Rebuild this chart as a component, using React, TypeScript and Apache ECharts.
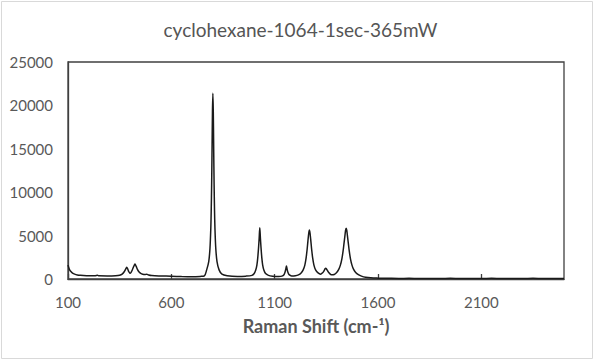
import React, { useEffect, useRef } from "react";
import * as echarts from "echarts";

const titleText = "cyclohexane-1064-1sec-365mW";
const xAxisName = "Raman Shift (cm-¹)";

const ramanShift = [
  100, 104, 108, 114, 122, 132, 145, 160, 190, 230, 243, 250, 290, 330, 350, 362, 372, 379, 384, 389,
  394, 400, 406, 412, 418, 424, 430, 436, 443, 452, 462, 472, 481, 490, 505, 540, 600, 650, 700, 740,
  760, 771, 781, 787, 791, 793, 795, 797, 799, 801, 803, 805, 807, 809, 811, 815, 821, 831, 845, 870,
  920, 960, 990, 1000, 1008, 1014, 1018, 1022, 1025, 1028, 1031, 1034, 1038, 1042, 1048, 1056, 1070, 1090, 1120, 1135,
  1145, 1150, 1154, 1157, 1160, 1164, 1170, 1182, 1200, 1215, 1228, 1238, 1246, 1252, 1257, 1261, 1265, 1268, 1271, 1275,
  1279, 1284, 1290, 1298, 1310, 1322, 1332, 1339, 1344, 1347, 1350, 1356, 1364, 1375, 1388, 1400, 1410, 1418, 1425, 1431,
  1436, 1440, 1443, 1446, 1449, 1452, 1456, 1461, 1467, 1474, 1482, 1492, 1505, 1520, 1540, 1565, 1600, 1650, 1700, 1750,
  1800, 1850, 1900, 1950, 2000, 2050, 2100, 2150, 2200, 2250, 2300, 2350, 2400, 2450, 2500,
];

const intensity = [
  1600, 1300, 1050, 850, 680, 560, 470, 420, 380, 370, 420, 370, 360, 380, 430, 560, 830, 1150, 1350, 1150,
  850, 660, 800, 1100, 1450, 1730, 1450, 1100, 830, 640, 540, 510, 560, 470, 400, 350, 320, 280, 260, 300,
  360, 1050, 2000, 3550, 5850, 7900, 10850, 14900, 19300, 21400, 19300, 14900, 10850, 7900, 5850, 3550, 2000, 1050, 550, 380,
  300, 330, 420, 600, 1000, 1600, 2400, 3600, 4700, 5900, 4700, 3600, 2400, 1600, 1000, 620, 420, 330, 290, 330,
  500, 780, 1150, 1500, 1150, 780, 500, 360, 380, 480, 700, 1050, 1600, 2400, 3400, 4400, 5300, 5650, 5300, 4400,
  3400, 2400, 1600, 1050, 700, 560, 720, 950, 1180, 1250, 1180, 950, 680, 480, 520, 750, 1100, 1600, 2300, 3200,
  4200, 5000, 5600, 5850, 5600, 5000, 4200, 3200, 2300, 1600, 1100, 750, 500, 330, 200, 130, 100, 80, 60, 80,
  50, 70, 60, 80, 50, 70, 60, 80, 50, 70, 60, 80, 50, 70, 60,
];

export default function App() {
  const ref = useRef<HTMLDivElement>(null);
  useEffect(() => {
    if (!ref.current) return;
    const chart = echarts.init(ref.current, null, { renderer: "svg" });
    const data = ramanShift.map((x, i) => [x, intensity[i]]);
    const labelColor = "#595959";
    const font = "Lato, 'Open Sans', sans-serif";
    const plain = (v: number) => String(v);
    chart.setOption({
      animation: false,
      backgroundColor: "#ffffff",
      title: {
        text: titleText,
        left: "center",
        top: 15,
        textStyle: { fontFamily: font, fontSize: 19, fontWeight: "normal", color: "#555555" },
      },
      graphic: [
        {
          type: "rect",
          shape: { x: 1.5, y: 1.5, width: 591, height: 357 },
          style: { fill: "none", stroke: "#d9d9d9", lineWidth: 1 },
          silent: true,
        },
      ],
      grid: {
        left: 68,
        top: 62,
        right: 37,
        bottom: 82,
        show: true,
        borderColor: "#404040",
        borderWidth: 1.3,
        backgroundColor: "transparent",
      },
      xAxis: {
        type: "value",
        min: 100,
        max: 2500,
        interval: 500,
        name: xAxisName,
        nameLocation: "middle",
        nameGap: 38,
        nameTextStyle: { fontFamily: font, fontSize: 18, fontWeight: "bold", color: labelColor },
        axisLine: { show: true, lineStyle: { color: "#404040", width: 1.3 } },
        axisTick: { show: true, inside: true, length: 5, lineStyle: { color: "#404040", width: 1.3 } },
        axisLabel: {
          fontFamily: font,
          fontSize: 15,
          color: labelColor,
          margin: 15,
          showMaxLabel: false,
          formatter: plain,
        },
        splitLine: { show: false },
      },
      yAxis: {
        type: "value",
        min: 0,
        max: 25000,
        interval: 5000,
        axisLine: { show: true, lineStyle: { color: "#404040", width: 1.3 } },
        axisTick: { show: false },
        axisLabel: { fontFamily: font, fontSize: 15, color: labelColor, margin: 15, formatter: plain },
        splitLine: { show: false },
      },
      series: [
        {
          type: "line",
          data,
          showSymbol: false,
          smooth: 0.3,
          lineStyle: { color: "#1a1a1a", width: 1.5 },
          clip: true,
        },
      ],
    });
    return () => chart.dispose();
  }, []);
  return (
    <div
      ref={ref}
      style={{ position: "absolute", left: 0, top: 0, width: 601, height: 361 }}
    />
  );
}
